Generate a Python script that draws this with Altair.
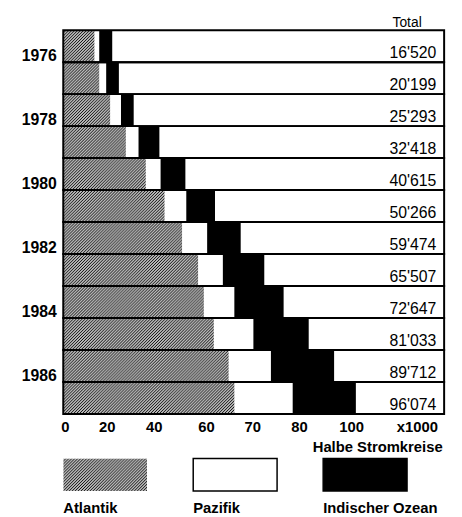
import base64
import altair as alt
import pandas as pd

# ---- data (thousands of half circuits) ----
years = ["1976", "1977", "1978", "1979", "1980", "1981",
         "1982", "1983", "1984", "1985", "1986", "1987"]
atlantik = [10.3, 11.9, 15.5, 20.7, 27.3, 33.5, 39.3, 44.6, 46.5, 49.8, 54.7, 56.6]
pazifik = [1.6, 2.3, 3.6, 4.2, 4.9, 7.2, 8.3, 8.2, 10.1, 13.1, 14.0, 19.3]
indischer = [4.3, 4.2, 4.2, 6.9, 8.2, 9.5, 11.1, 13.7, 16.3, 18.3, 20.9, 20.9]
totals = ["16'520", "20'199", "25'293", "32'418", "40'615", "50'266",
          "59'474", "65'507", "72'647", "81'033", "89'712", "96'074"]
year_labels = ["1976", "1978", "1980", "1982", "1984", "1986"]
tick_pos = [0.5, 14.4, 29.9, 47.2, 62.5, 78.0, 95.2, 117.0]
tick_text = ["0", "20", "40", "60", "70", "80", "100", "x1000"]
series = ["Atlantik", "Pazifik", "Indischer Ozean"]

W, H = 386, 389
FONT = "Liberation Sans"

df = pd.DataFrame({"year": years, "atl": atlantik, "paz": pazifik,
                   "ind": indischer, "total": totals})
leg = pd.DataFrame({"series": series})
one = pd.DataFrame({"k": [0]})


def hatch_uri(w, h):
    # texture: fine 45-degree "/" hatching, 3px horizontal period
    svg = (
        "<svg xmlns='http://www.w3.org/2000/svg' width='%d' height='%d'>"
        "<defs><pattern id='p' width='3' height='3' patternUnits='userSpaceOnUse'>"
        "<path d='M-1,1 L1,-1 M0,3 L3,0 M2,4 L4,2' stroke='black' stroke-width='1.05'/>"
        "</pattern></defs>"
        "<rect width='100%%' height='100%%' fill='white'/>"
        "<rect width='100%%' height='100%%' fill='url(#p)'/></svg>" % (w, h)
    )
    return "data:image/svg+xml;base64," + base64.b64encode(svg.encode()).decode()


label_expr = "[{}][indexof([{}], datum.value)]".format(
    ",".join("'%s'" % s for s in tick_text),
    ",".join(str(v) for v in tick_pos))

xaxis = alt.Axis(values=tick_pos, labelExpr=label_expr, ticks=False, domain=False,
                 grid=False, labelFlush=False, labelOverlap=False, labelFont=FONT,
                 labelFontSize=15, labelFontWeight="bold", labelColor="black",
                 labelPadding=6, title="Halbe Stromkreise", titleFont=FONT,
                 titleFontSize=15, titleFontWeight="bold", titleColor="black",
                 titleX=384, titleY=38, titleAlign="right", titleBaseline="alphabetic")
yaxis = alt.Axis(values=year_labels, ticks=False, domain=False, grid=False, title=None,
                 labelFont=FONT, labelFontSize=16, labelFontWeight="bold",
                 labelColor="black", labelPadding=7, labelOffset=15,
                 labelBaseline="alphabetic")

xscale = alt.Scale(domain=[0, 126], nice=False, zero=True)
yenc = alt.Y("year:O", sort=years, scale=alt.Scale(paddingInner=0, paddingOuter=0), axis=yaxis)

base = alt.Chart(df).transform_calculate(
    p_end="datum.atl + datum.paz",
    b_end="datum.atl + datum.paz + datum.ind",
)

bg = alt.Chart(one).mark_image(url=hatch_uri(W, H), aspect=False, align="left",
                               baseline="top", width=W, height=H).encode(
    x=alt.value(0), y=alt.value(0))

cover = base.mark_rect(fill="white", strokeWidth=0).encode(
    x=alt.X("atl:Q", scale=xscale, axis=xaxis), x2=alt.value(W), y=yenc)

black = base.mark_rect(fill="black", strokeWidth=0).encode(
    x=alt.X("p_end:Q", scale=xscale, axis=xaxis), x2="b_end:Q", y=yenc)

frames = base.mark_rect(fill="transparent", stroke="black", strokeWidth=2).encode(
    x=alt.value(0), x2=alt.value(W), y=yenc)

tot = base.mark_text(align="right", baseline="alphabetic", dy=12, font=FONT,
                     fontSize=16, color="black").encode(
    x=alt.value(378), y=yenc, text="total:N")

header = alt.Chart(one).mark_text(text="Total", align="center", baseline="alphabetic",
                                  font=FONT, fontSize=14, color="black").encode(
    x=alt.value(348.5), y=alt.value(-3))

main = alt.layer(bg, cover, black, frames, tot, header)

lscale = alt.Scale(domain=series, paddingInner=0.3546, paddingOuter=0.1427, align=0)

sw_hatch = alt.Chart(leg).transform_filter("datum.series == 'Atlantik'").mark_image(
    url=hatch_uri(85, 33), aspect=False, align="left", baseline="top",
    width=85, height=33).encode(
    x=alt.X("series:N", scale=lscale, axis=None, bandPosition=0),
    y=alt.value(434))

sw_other = alt.Chart(leg).transform_filter("datum.series != 'Atlantik'").mark_rect(
    stroke="black", strokeWidth=1.5).encode(
    x=alt.X("series:N", scale=lscale, axis=None), y=alt.value(434), y2=alt.value(467),
    fill=alt.Fill("series:N", scale=alt.Scale(domain=series,
                                               range=["white", "white", "black"]),
                  legend=None))

leg_text = alt.Chart(leg).mark_text(align="left", baseline="alphabetic", font=FONT,
                                    fontSize=15, fontWeight="bold", color="black").encode(
    x=alt.X("series:N", scale=lscale, axis=None, bandPosition=0),
    y=alt.value(489), text="series:N")

legend = alt.layer(sw_hatch, sw_other, leg_text)

chart = alt.layer(main, legend).resolve_scale(x="independent").properties(
    width=W, height=H,
    autosize=alt.AutoSizeParams(type="none"),
    padding={"left": 56, "top": 19, "right": 10, "bottom": 105},
    background="white",
).configure_view(strokeWidth=0)

chart.save("out.html", embed_options={"renderer": "svg", "actions": False})
